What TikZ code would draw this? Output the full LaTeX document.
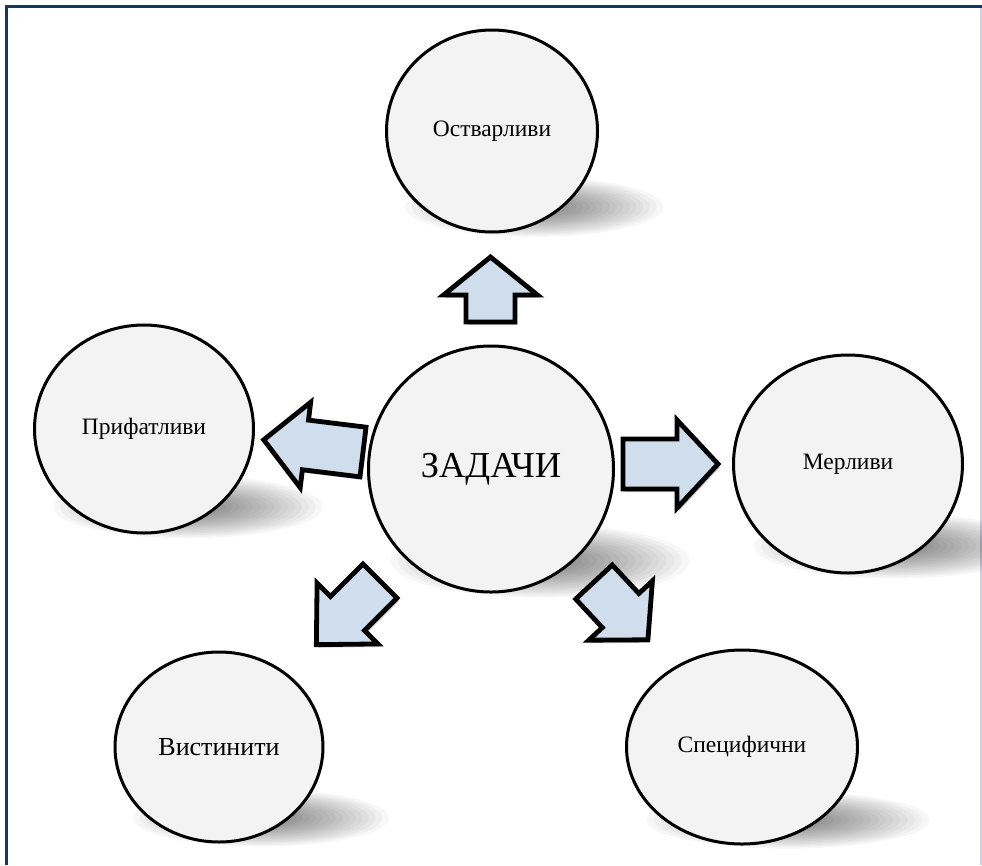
\documentclass[tikz,border=0pt]{standalone}
\usepackage{fontspec}
\setmainfont{Liberation Serif}
\usetikzlibrary{shapes.geometric}

\definecolor{frameblue}{RGB}{26,52,107}
\definecolor{framelight}{RGB}{208,204,226}
\definecolor{arrowfill}{RGB}{207,221,236}
\definecolor{bubblefill}{RGB}{243,243,243}

\tikzset{
  bubble/.style={ellipse, draw=black, line width=3pt, fill=bubblefill, inner sep=0pt},
  blockarrow/.style={draw=black, line width=4.8pt, fill=arrowfill, line join=miter},
  arrowshade/.style={fill=black, opacity=0.22},
  lbl/.style={font=\fontsize{23.5}{28}\selectfont},
}

% soft floor shadow: centre x, centre y, x radius, y radius
\newcommand\softshadow[4]{%
  \foreach \f in {1.36,1.29,...,0.3}
    \fill[black, opacity=0.03] (#1,#2) ellipse [x radius={\f*#3}, y radius={\f*#4}];
}

% block arrow: tail x, tail y, angle, length, shaft half width, head length, head half width
\newcommand\blockarr[7]{%
  \begin{scope}[shift={(#1+2,#2+3)}, rotate=#3]
    \fill[arrowshade] (0,#5) -- ({#4-#6},#5) -- ({#4-#6},#7) -- (#4,0)
      -- ({#4-#6},-#7) -- ({#4-#6},-#5) -- (0,-#5) -- cycle;
  \end{scope}
  \begin{scope}[shift={(#1,#2)}, rotate=#3]
    \draw[blockarrow] (0,#5) -- ({#4-#6},#5) -- ({#4-#6},#7) -- (#4,0)
      -- ({#4-#6},-#7) -- ({#4-#6},-#5) -- (0,-#5) -- cycle;
  \end{scope}
}

\begin{document}
\begin{tikzpicture}[x=1pt, y=-1pt]
  \useasboundingbox (0,0) rectangle (982,865);
  \fill[white] (0,0) rectangle (982,865);

  % frame
  \draw[framelight, line width=1.5pt] (981,7) -- (981,865);
  \draw[frameblue, line width=2.5pt] (6.5,865) -- (6.5,6.5) -- (982,6.5);

  % floor shadows under the bubbles
  \softshadow{534}{207}{95}{22}
  \softshadow{540}{561}{110}{27}
  \softshadow{188}{507}{99}{23}
  \softshadow{894}{546}{103}{24}
  \softshadow{261}{818}{94}{21}
  \softshadow{788}{820}{104}{21}

  % bubbles
  \node[bubble, lbl, minimum width=211pt, minimum height=202pt] (ostv) at (492,131) {Остварливи};
  \node[bubble, minimum width=245pt, minimum height=246pt,
        font=\fontsize{36.5}{42}\selectfont] (zadaci) at (491,469) {ЗАДАЧИ};
  \node[bubble, lbl, minimum width=219pt, minimum height=208pt] (prif) at (144,429) {Прифатливи};
  \node[bubble, lbl, minimum width=229pt, minimum height=218pt] (merl) at (848,464) {Мерливи};
  \node[bubble, minimum width=208pt, minimum height=190pt,
        font=\fontsize{26}{30}\selectfont] (vist) at (219,747) {Вистинити};
  \node[bubble, lbl, minimum width=231pt, minimum height=194pt] (spec) at (742,747) {Специфични};

  % block arrows from the centre
  \blockarr{490.5}{322}{90}{65}{24.5}{38}{47}
  \blockarr{623}{464}{0}{95}{25}{41}{44}
  \blockarr{363}{452}{173}{100}{25}{42}{43}
  \blockarr{380}{581}{225}{90}{24}{44}{43}
  \blockarr{594}{582}{313}{79}{25}{40}{43.5}
\end{tikzpicture}
\end{document}
